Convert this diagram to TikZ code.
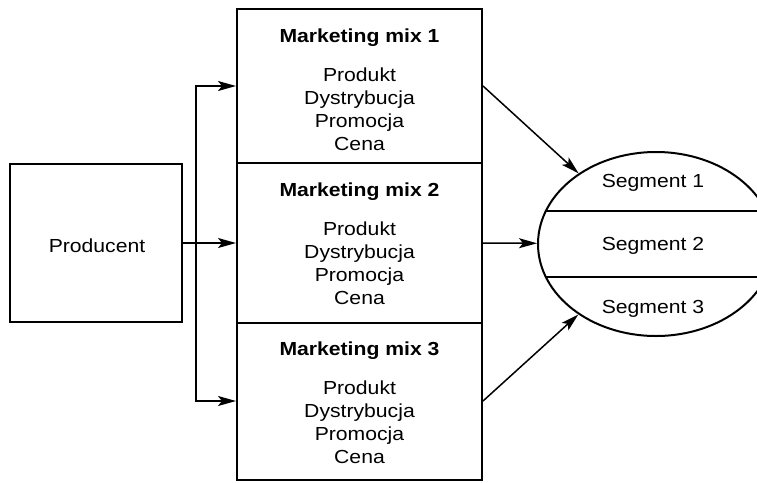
\documentclass[tikz,border=0pt]{standalone}
\usepackage{fontspec}
\setmainfont{Liberation Sans}[FakeStretch=1.12]
\usetikzlibrary{shapes.geometric,arrows.meta}
\tikzset{
  box/.style={draw,line width=2pt,inner sep=0pt,rectangle},
  conn/.style={line width=1.5pt},
  arr/.style={conn,-{Stealth[length=18pt,width=10pt,inset=4pt]}},
  txt/.style={anchor=base,inner sep=0pt,font=\fontsize{18.9}{22}\selectfont},
  ttl/.style={txt,font=\fontsize{18.9}{22}\selectfont\bfseries}
}
\begin{document}
\begin{tikzpicture}[x=1pt,y=-1pt]
\useasboundingbox (0,0) rectangle (757,482);
% producer
\node[box,minimum width=172pt,minimum height=158pt] (p) at (96,243) {};
\node[txt] (pt) at (97,252) {Producent};
% marketing mix boxes
\node[box,minimum width=245pt,minimum height=154pt] (m1) at (359.5,86) {};
\node[box,minimum width=245pt,minimum height=160pt] (m2) at (359.5,243) {};
\node[box,minimum width=245pt,minimum height=157pt] (m3) at (359.5,401) {};
\foreach \n/\t/\k in {m1/9/1,m2/163/2,m3/322/3}{
  \node[ttl] (\n t) at (359.5,\t+33) {Marketing mix \k};
  \node[txt] (\n a) at (359.5,\t+72) {Produkt};
  \node[txt] (\n b) at (359.5,\t+95) {Dystrybucja};
  \node[txt] (\n c) at (359.5,\t+118) {Promocja};
  \node[txt] (\n d) at (359.5,\t+141) {Cena};
}
% segments ellipse
\node[draw,ellipse,line width=2pt,inner sep=0pt,minimum width=236pt,minimum height=184pt] (seg) at (656,244) {};
\begin{scope}
  \clip (656,244) ellipse [x radius=118pt, y radius=92pt];
  \draw[line width=2pt] (520,211) coordinate (l1a) -- (800,211) coordinate (l1b);
  \draw[line width=2pt] (520,277) coordinate (l2a) -- (800,277) coordinate (l2b);
\end{scope}
\node[txt] (s1) at (653,187) {Segment 1};
\node[txt] (s2) at (653,250) {Segment 2};
\node[txt] (s3) at (653,313) {Segment 3};
% connectors
\coordinate (j) at (196,243);
\draw[arr] (p.east) -- (m2.west);
\draw[arr] (j) |- (m1.west);
\draw[arr] (j) |- (m3.west);
\draw[arr] (m1.east) -- (seg);
\draw[arr] (m2.east) -- (seg);
\draw[arr] (m3.east) -- (seg);
\end{tikzpicture}
\end{document}
